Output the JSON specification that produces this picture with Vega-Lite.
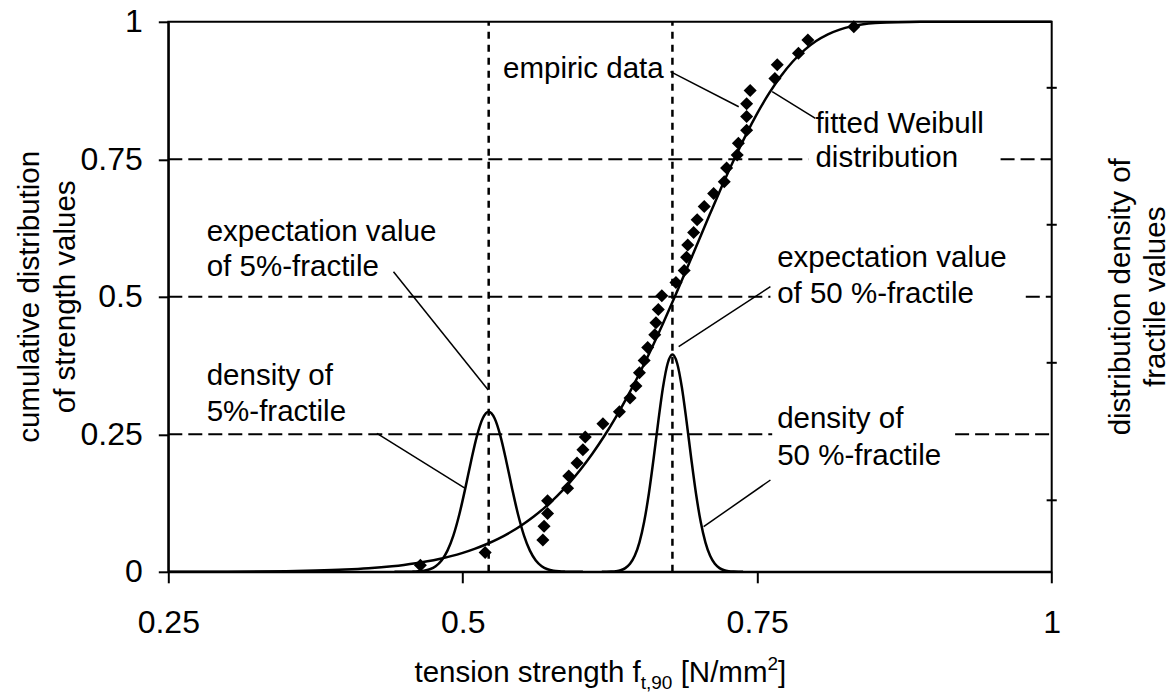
{
  "$schema": "https://vega.github.io/schema/vega-lite/v6.json",
  "width": 883.4,
  "height": 550,
  "autosize": {"type": "none"},
  "padding": {"left": 168.3, "top": 21.8, "right": 119.3, "bottom": 124.2},
  "background": "white",
  "config": {
    "font": "Liberation Sans",
    "view": {"stroke": "black", "strokeWidth": 2},
    "axis": {
      "domainColor": "black",
      "domainWidth": 2,
      "tickColor": "black",
      "tickWidth": 2,
      "labelColor": "black",
      "labelFont": "Liberation Sans",
      "labelFontSize": 32,
      "labelFlush": false,
      "labelOverlap": false,
      "labelBound": false,
      "grid": false,
      "title": null
    },
    "text": {"font": "Liberation Sans", "color": "black"}
  },
  "datasets": {
    "weibull": [
      {"x": 0.25, "y": 0.00004}, {"x": 0.30, "y": 0.00025}, {"x": 0.35, "y": 0.0011},
      {"x": 0.375, "y": 0.00215}, {"x": 0.40, "y": 0.00402}, {"x": 0.42, "y": 0.00645},
      {"x": 0.44, "y": 0.01011}, {"x": 0.45, "y": 0.01256}, {"x": 0.46, "y": 0.01552},
      {"x": 0.47, "y": 0.01908}, {"x": 0.48, "y": 0.02335}, {"x": 0.49, "y": 0.02844},
      {"x": 0.50, "y": 0.03449}, {"x": 0.51, "y": 0.04163}, {"x": 0.52, "y": 0.05005},
      {"x": 0.53, "y": 0.05991}, {"x": 0.54, "y": 0.0714}, {"x": 0.55, "y": 0.0847},
      {"x": 0.56, "y": 0.10003}, {"x": 0.57, "y": 0.11761}, {"x": 0.58, "y": 0.13766},
      {"x": 0.59, "y": 0.1604}, {"x": 0.60, "y": 0.18606}, {"x": 0.61, "y": 0.21464},
      {"x": 0.62, "y": 0.24637}, {"x": 0.63, "y": 0.28134}, {"x": 0.64, "y": 0.31944},
      {"x": 0.65, "y": 0.36065}, {"x": 0.66, "y": 0.40472}, {"x": 0.67, "y": 0.45127},
      {"x": 0.68, "y": 0.49992}, {"x": 0.69, "y": 0.54995}, {"x": 0.70, "y": 0.6007},
      {"x": 0.71, "y": 0.65125}, {"x": 0.72, "y": 0.70078}, {"x": 0.73, "y": 0.74818},
      {"x": 0.74, "y": 0.7927}, {"x": 0.75, "y": 0.83345}, {"x": 0.76, "y": 0.86976},
      {"x": 0.77, "y": 0.90113}, {"x": 0.78, "y": 0.92739}, {"x": 0.79, "y": 0.94857},
      {"x": 0.80, "y": 0.96499}, {"x": 0.81, "y": 0.97723}, {"x": 0.82, "y": 0.98587},
      {"x": 0.83, "y": 0.9917}, {"x": 0.84, "y": 0.9954}, {"x": 0.85, "y": 0.99761},
      {"x": 0.86, "y": 0.99884}, {"x": 0.88, "y": 0.99979}, {"x": 0.90, "y": 0.99997},
      {"x": 0.95, "y": 1}, {"x": 1.0, "y": 1}
    ],
    "density": [
      {"curve": "f05", "x": 0.442, "y": 0}, {"curve": "f05", "x": 0.452, "y": 0.0001},
      {"curve": "f05", "x": 0.457, "y": 0.0003}, {"curve": "f05", "x": 0.462, "y": 0.0008},
      {"curve": "f05", "x": 0.467, "y": 0.002}, {"curve": "f05", "x": 0.472, "y": 0.0047},
      {"curve": "f05", "x": 0.477, "y": 0.0103}, {"curve": "f05", "x": 0.482, "y": 0.0207},
      {"curve": "f05", "x": 0.487, "y": 0.0385}, {"curve": "f05", "x": 0.492, "y": 0.0658},
      {"curve": "f05", "x": 0.497, "y": 0.1037}, {"curve": "f05", "x": 0.502, "y": 0.1503},
      {"curve": "f05", "x": 0.507, "y": 0.2007}, {"curve": "f05", "x": 0.512, "y": 0.2467},
      {"curve": "f05", "x": 0.517, "y": 0.2792}, {"curve": "f05", "x": 0.522, "y": 0.291},
      {"curve": "f05", "x": 0.527, "y": 0.2792}, {"curve": "f05", "x": 0.532, "y": 0.2467},
      {"curve": "f05", "x": 0.537, "y": 0.2007}, {"curve": "f05", "x": 0.542, "y": 0.1503},
      {"curve": "f05", "x": 0.547, "y": 0.1037}, {"curve": "f05", "x": 0.552, "y": 0.0658},
      {"curve": "f05", "x": 0.557, "y": 0.0385}, {"curve": "f05", "x": 0.562, "y": 0.0207},
      {"curve": "f05", "x": 0.567, "y": 0.0103}, {"curve": "f05", "x": 0.572, "y": 0.0047},
      {"curve": "f05", "x": 0.577, "y": 0.002}, {"curve": "f05", "x": 0.582, "y": 0.0008},
      {"curve": "f05", "x": 0.587, "y": 0.0003}, {"curve": "f05", "x": 0.592, "y": 0.0001},
      {"curve": "f05", "x": 0.602, "y": 0},
      {"curve": "f50", "x": 0.618, "y": 0}, {"curve": "f50", "x": 0.622, "y": 0.0001},
      {"curve": "f50", "x": 0.626, "y": 0.0004}, {"curve": "f50", "x": 0.63, "y": 0.0011},
      {"curve": "f50", "x": 0.634, "y": 0.0028}, {"curve": "f50", "x": 0.638, "y": 0.0067},
      {"curve": "f50", "x": 0.642, "y": 0.0145}, {"curve": "f50", "x": 0.646, "y": 0.029},
      {"curve": "f50", "x": 0.65, "y": 0.0535}, {"curve": "f50", "x": 0.654, "y": 0.0909},
      {"curve": "f50", "x": 0.658, "y": 0.1424}, {"curve": "f50", "x": 0.662, "y": 0.2056},
      {"curve": "f50", "x": 0.666, "y": 0.2736}, {"curve": "f50", "x": 0.67, "y": 0.3355},
      {"curve": "f50", "x": 0.674, "y": 0.3792}, {"curve": "f50", "x": 0.678, "y": 0.395},
      {"curve": "f50", "x": 0.682, "y": 0.3792}, {"curve": "f50", "x": 0.686, "y": 0.3355},
      {"curve": "f50", "x": 0.69, "y": 0.2736}, {"curve": "f50", "x": 0.694, "y": 0.2056},
      {"curve": "f50", "x": 0.698, "y": 0.1424}, {"curve": "f50", "x": 0.702, "y": 0.0909},
      {"curve": "f50", "x": 0.706, "y": 0.0535}, {"curve": "f50", "x": 0.71, "y": 0.029},
      {"curve": "f50", "x": 0.714, "y": 0.0145}, {"curve": "f50", "x": 0.718, "y": 0.0067},
      {"curve": "f50", "x": 0.722, "y": 0.0028}, {"curve": "f50", "x": 0.726, "y": 0.0011},
      {"curve": "f50", "x": 0.73, "y": 0.0004}, {"curve": "f50", "x": 0.734, "y": 0.0001},
      {"curve": "f50", "x": 0.738, "y": 0}
    ],
    "empiric": [
      {"x": 0.464, "y": 0.012}, {"x": 0.519, "y": 0.035}, {"x": 0.568, "y": 0.058},
      {"x": 0.569, "y": 0.083}, {"x": 0.572, "y": 0.106}, {"x": 0.572, "y": 0.129},
      {"x": 0.589, "y": 0.152}, {"x": 0.590, "y": 0.174}, {"x": 0.597, "y": 0.198},
      {"x": 0.602, "y": 0.222}, {"x": 0.604, "y": 0.245}, {"x": 0.619, "y": 0.269},
      {"x": 0.633, "y": 0.291}, {"x": 0.642, "y": 0.316}, {"x": 0.647, "y": 0.338},
      {"x": 0.650, "y": 0.362}, {"x": 0.654, "y": 0.384}, {"x": 0.657, "y": 0.408},
      {"x": 0.663, "y": 0.431}, {"x": 0.664, "y": 0.453}, {"x": 0.666, "y": 0.477},
      {"x": 0.669, "y": 0.502}, {"x": 0.681, "y": 0.526}, {"x": 0.688, "y": 0.548},
      {"x": 0.690, "y": 0.572}, {"x": 0.691, "y": 0.594}, {"x": 0.696, "y": 0.617},
      {"x": 0.699, "y": 0.640}, {"x": 0.705, "y": 0.664}, {"x": 0.713, "y": 0.688},
      {"x": 0.722, "y": 0.709}, {"x": 0.724, "y": 0.734}, {"x": 0.733, "y": 0.758},
      {"x": 0.734, "y": 0.779}, {"x": 0.741, "y": 0.803}, {"x": 0.741, "y": 0.828},
      {"x": 0.741, "y": 0.851}, {"x": 0.744, "y": 0.875}, {"x": 0.765, "y": 0.897},
      {"x": 0.767, "y": 0.922}, {"x": 0.785, "y": 0.943}, {"x": 0.793, "y": 0.967},
      {"x": 0.832, "y": 0.991}
    ],
    "levels": [
      {"x": 0.25, "x2": 0.7935, "y": 0.75}, {"x": 0.9566, "x2": 1, "y": 0.75},
      {"x": 0.25, "x2": 0.7612, "y": 0.5}, {"x": 0.978, "x2": 1, "y": 0.5},
      {"x": 0.25, "x2": 0.7627, "y": 0.25}, {"x": 0.918, "x2": 1, "y": 0.25}
    ],
    "fractiles": [{"x": 0.522}, {"x": 0.678}],
    "rightTicks": [
      {"x": 0.9957, "x2": 1.0043, "y": 0.13}, {"x": 0.9957, "x2": 1.0043, "y": 0.38},
      {"x": 0.9957, "x2": 1.0043, "y": 0.631}, {"x": 0.9957, "x2": 1.0043, "y": 0.88}
    ],
    "leaders": [
      {"x": 0.6763, "y": 0.9093, "x2": 0.7343, "y2": 0.8456},
      {"x": 0.7627, "y": 0.8729, "x2": 0.7994, "y2": 0.8245},
      {"x": 0.4412, "y": 0.5456, "x2": 0.5216, "y2": 0.3305},
      {"x": 0.4271, "y": 0.2518, "x2": 0.5021, "y2": 0.1518},
      {"x": 0.7612, "y": 0.5184, "x2": 0.6833, "y2": 0.4093},
      {"x": 0.7612, "y": 0.1669, "x2": 0.7045, "y2": 0.082}
    ],
    "notes": [
      {"x": 0.7994, "y": 0.7973, "text": "fitted Weibull"},
      {"x": 0.7994, "y": 0.7365, "text": "distribution"},
      {"x": 0.2826, "y": 0.602, "text": "expectation value"},
      {"x": 0.2826, "y": 0.5378, "text": "of 5%-fractile"},
      {"x": 0.2826, "y": 0.3396, "text": "density of"},
      {"x": 0.2826, "y": 0.2747, "text": "5%-fractile"},
      {"x": 0.7669, "y": 0.5533, "text": "expectation value"},
      {"x": 0.7669, "y": 0.4887, "text": "of 50 %-fractile"},
      {"x": 0.7669, "y": 0.2609, "text": "density of"},
      {"x": 0.7669, "y": 0.1942, "text": "50 %-fractile"}
    ],
    "notesRight": [
      {"x": 0.6706, "y": 0.8973, "text": "empiric data"}
    ],
    "sideTitles": [
      {"x": 0.1325, "y": 0.5, "text": "cumulative distribution"},
      {"x": 0.1631, "y": 0.5, "text": "of strength values"},
      {"x": 1.0586, "y": 0.5, "text": "distribution density of"},
      {"x": 1.0884, "y": 0.5, "text": "fractile values"}
    ]
  },
  "layer": [
    {
      "data": {"name": "levels"},
      "mark": {"type": "rule", "color": "black", "strokeWidth": 2, "strokeDash": [14, 6]},
      "encoding": {
        "x": {"field": "x", "type": "quantitative", "scale": {"domain": [0.25, 1], "nice": false, "zero": false},
          "axis": {"orient": "bottom", "values": [0.25, 0.5, 0.75, 1], "format": ".2~f", "tickSize": 11, "labelPadding": 25}},
        "x2": {"field": "x2"},
        "y": {"field": "y", "type": "quantitative", "scale": {"domain": [0, 1], "nice": false, "zero": false},
          "axis": {"orient": "left", "values": [0, 0.25, 0.5, 0.75, 1], "format": ".2~f", "tickSize": 10, "labelPadding": 16}}
      }
    },
    {
      "data": {"name": "fractiles"},
      "mark": {"type": "rule", "color": "black", "strokeWidth": 2.5, "strokeDash": [7, 6]},
      "encoding": {
        "x": {"field": "x", "type": "quantitative"},
        "y": {"datum": 0, "type": "quantitative"},
        "y2": {"datum": 1}
      }
    },
    {
      "data": {"name": "weibull"},
      "mark": {"type": "line", "color": "black", "strokeWidth": 2.5, "interpolate": "monotone"},
      "encoding": {
        "x": {"field": "x", "type": "quantitative"},
        "y": {"field": "y", "type": "quantitative"}
      }
    },
    {
      "data": {"name": "density"},
      "mark": {"type": "line", "color": "black", "strokeWidth": 2.5, "interpolate": "monotone"},
      "encoding": {
        "x": {"field": "x", "type": "quantitative"},
        "y": {"field": "y", "type": "quantitative"},
        "detail": {"field": "curve", "type": "nominal"}
      }
    },
    {
      "data": {"name": "empiric"},
      "mark": {"type": "point", "shape": "diamond", "filled": true, "color": "black", "opacity": 1, "size": 170},
      "encoding": {
        "x": {"field": "x", "type": "quantitative"},
        "y": {"field": "y", "type": "quantitative"}
      }
    },
    {
      "data": {"name": "leaders"},
      "mark": {"type": "rule", "color": "black", "strokeWidth": 1.5},
      "encoding": {
        "x": {"field": "x", "type": "quantitative"},
        "y": {"field": "y", "type": "quantitative"},
        "x2": {"field": "x2"},
        "y2": {"field": "y2"}
      }
    },
    {
      "data": {"name": "rightTicks"},
      "mark": {"type": "rule", "color": "black", "strokeWidth": 2},
      "encoding": {
        "x": {"field": "x", "type": "quantitative"},
        "x2": {"field": "x2"},
        "y": {"field": "y", "type": "quantitative"}
      }
    },
    {
      "data": {"name": "notes"},
      "mark": {"type": "text", "align": "left", "baseline": "alphabetic", "fontSize": 29.5},
      "encoding": {
        "x": {"field": "x", "type": "quantitative"},
        "y": {"field": "y", "type": "quantitative"},
        "text": {"field": "text"}
      }
    },
    {
      "data": {"name": "notesRight"},
      "mark": {"type": "text", "align": "right", "baseline": "alphabetic", "fontSize": 29.5},
      "encoding": {
        "x": {"field": "x", "type": "quantitative"},
        "y": {"field": "y", "type": "quantitative"},
        "text": {"field": "text"}
      }
    },
    {
      "data": {"name": "sideTitles"},
      "mark": {"type": "text", "align": "center", "baseline": "middle", "angle": 270, "fontSize": 29.5},
      "encoding": {
        "x": {"field": "x", "type": "quantitative"},
        "y": {"field": "y", "type": "quantitative"},
        "text": {"field": "text"}
      }
    },
    {
      "data": {"values": [{"x": 0.6511, "y": -0.2, "text": "tension strength f"}]},
      "mark": {"type": "text", "align": "right", "baseline": "alphabetic", "fontSize": 29.5},
      "encoding": {
        "x": {"field": "x", "type": "quantitative"},
        "y": {"field": "y", "type": "quantitative"},
        "text": {"field": "text"}
      }
    },
    {
      "data": {"values": [{"x": 0.6511, "y": -0.2, "text": "t,90"}]},
      "mark": {"type": "text", "align": "left", "baseline": "alphabetic", "fontSize": 19, "dy": 7},
      "encoding": {
        "x": {"field": "x", "type": "quantitative"},
        "y": {"field": "y", "type": "quantitative"},
        "text": {"field": "text"}
      }
    },
    {
      "data": {"values": [{"x": 0.685, "y": -0.2, "text": "[N/mm"}, {"x": 0.7677, "y": -0.2, "text": "]"}]},
      "mark": {"type": "text", "align": "left", "baseline": "alphabetic", "fontSize": 29.5},
      "encoding": {
        "x": {"field": "x", "type": "quantitative"},
        "y": {"field": "y", "type": "quantitative"},
        "text": {"field": "text"}
      }
    },
    {
      "data": {"values": [{"x": 0.7588, "y": -0.2, "text": "2"}]},
      "mark": {"type": "text", "align": "left", "baseline": "alphabetic", "fontSize": 19, "dy": -12},
      "encoding": {
        "x": {"field": "x", "type": "quantitative"},
        "y": {"field": "y", "type": "quantitative"},
        "text": {"field": "text"}
      }
    }
  ]
}
